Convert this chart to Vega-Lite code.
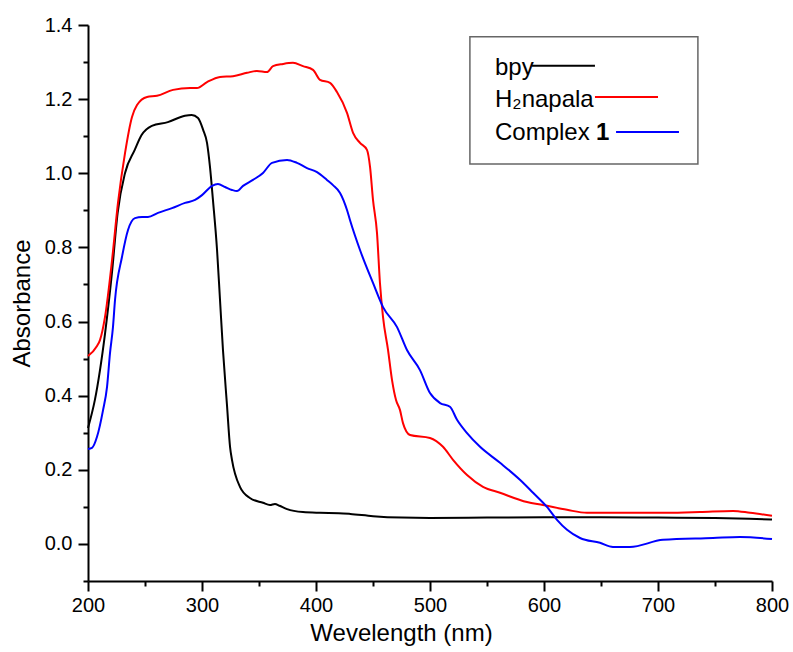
{
  "$schema": "https://vega.github.io/schema/vega-lite/v6.json",
  "width": 684,
  "height": 556,
  "autosize": {"type": "none"},
  "padding": {"left": 88, "top": 25, "right": 21, "bottom": 71},
  "background": "white",
  "config": {
    "view": {"stroke": null},
    "font": "Liberation Sans",
    "axis": {
      "domainColor": "black", "domainWidth": 2, "tickColor": "black", "tickWidth": 2,
      "grid": false, "labelColor": "black", "titleColor": "black",
      "labelFont": "Liberation Sans", "titleFont": "Liberation Sans",
      "labelFontSize": 20, "titleFontSize": 24, "titleFontWeight": "normal",
      "labelFlush": false, "labelOverlap": false
    }
  },
  "datasets": {
    "spectra": [
      {"s":"bpy","wl":200,"a":0.313},{"s":"bpy","wl":206,"a":0.388},{"s":"bpy","wl":215,"a":0.569},{"s":"bpy","wl":221,"a":0.731},{"s":"bpy","wl":226,"a":0.893},{"s":"bpy","wl":232.5,"a":1.001},{"s":"bpy","wl":241,"a":1.063},{"s":"bpy","wl":247,"a":1.103},{"s":"bpy","wl":256,"a":1.128},{"s":"bpy","wl":270,"a":1.138},{"s":"bpy","wl":285,"a":1.155},{"s":"bpy","wl":291,"a":1.157},{"s":"bpy","wl":296.5,"a":1.149},{"s":"bpy","wl":301,"a":1.117},{"s":"bpy","wl":304.4,"a":1.082},{"s":"bpy","wl":307,"a":1.017},{"s":"bpy","wl":309.6,"a":0.928},{"s":"bpy","wl":313.2,"a":0.793},{"s":"bpy","wl":315.8,"a":0.658},{"s":"bpy","wl":318.4,"a":0.523},{"s":"bpy","wl":321.9,"a":0.375},{"s":"bpy","wl":324.6,"a":0.262},{"s":"bpy","wl":326.3,"a":0.227},{"s":"bpy","wl":333.3,"a":0.154},{"s":"bpy","wl":342,"a":0.124},{"s":"bpy","wl":353.5,"a":0.111},{"s":"bpy","wl":359.6,"a":0.105},{"s":"bpy","wl":364,"a":0.108},{"s":"bpy","wl":368,"a":0.103},{"s":"bpy","wl":374.6,"a":0.094},{"s":"bpy","wl":388.6,"a":0.086},{"s":"bpy","wl":403.5,"a":0.084},{"s":"bpy","wl":420,"a":0.083},{"s":"bpy","wl":430,"a":0.081},{"s":"bpy","wl":450,"a":0.075},{"s":"bpy","wl":475,"a":0.071},{"s":"bpy","wl":500,"a":0.070},{"s":"bpy","wl":550,"a":0.071},{"s":"bpy","wl":600,"a":0.072},{"s":"bpy","wl":650,"a":0.072},{"s":"bpy","wl":700,"a":0.071},{"s":"bpy","wl":750,"a":0.070},{"s":"bpy","wl":780,"a":0.068},{"s":"bpy","wl":800,"a":0.066},
      {"s":"H2napala","wl":200,"a":0.507},{"s":"H2napala","wl":207.9,"a":0.534},{"s":"H2napala","wl":210.5,"a":0.55},{"s":"H2napala","wl":214.9,"a":0.612},{"s":"H2napala","wl":221.1,"a":0.766},{"s":"H2napala","wl":226.3,"a":0.92},{"s":"H2napala","wl":232.5,"a":1.055},{"s":"H2napala","wl":238.6,"a":1.152},{"s":"H2napala","wl":243,"a":1.184},{"s":"H2napala","wl":251.8,"a":1.206},{"s":"H2napala","wl":260.5,"a":1.209},{"s":"H2napala","wl":274.6,"a":1.225},{"s":"H2napala","wl":289.5,"a":1.23},{"s":"H2napala","wl":295.6,"a":1.23},{"s":"H2napala","wl":304.4,"a":1.246},{"s":"H2napala","wl":315.8,"a":1.26},{"s":"H2napala","wl":327.2,"a":1.262},{"s":"H2napala","wl":339.5,"a":1.271},{"s":"H2napala","wl":348.2,"a":1.276},{"s":"H2napala","wl":357,"a":1.273},{"s":"H2napala","wl":362.3,"a":1.289},{"s":"H2napala","wl":371.1,"a":1.295},{"s":"H2napala","wl":379.8,"a":1.298},{"s":"H2napala","wl":388.6,"a":1.289},{"s":"H2napala","wl":397.4,"a":1.279},{"s":"H2napala","wl":403.5,"a":1.252},{"s":"H2napala","wl":412.3,"a":1.244},{"s":"H2napala","wl":418.4,"a":1.219},{"s":"H2napala","wl":427.2,"a":1.163},{"s":"H2napala","wl":432.5,"a":1.109},{"s":"H2napala","wl":438.6,"a":1.082},{"s":"H2napala","wl":444.7,"a":1.063},{"s":"H2napala","wl":447.4,"a":1.017},{"s":"H2napala","wl":450,"a":0.928},{"s":"H2napala","wl":453.5,"a":0.839},{"s":"H2napala","wl":456.1,"a":0.704},{"s":"H2napala","wl":458.8,"a":0.612},{"s":"H2napala","wl":463.2,"a":0.523},{"s":"H2napala","wl":466.7,"a":0.442},{"s":"H2napala","wl":470.2,"a":0.388},{"s":"H2napala","wl":473.7,"a":0.361},{"s":"H2napala","wl":476.3,"a":0.326},{"s":"H2napala","wl":482.5,"a":0.294},{"s":"H2napala","wl":500,"a":0.286},{"s":"H2napala","wl":511.4,"a":0.262},{"s":"H2napala","wl":520.2,"a":0.227},{"s":"H2napala","wl":532.5,"a":0.186},{"s":"H2napala","wl":546.5,"a":0.154},{"s":"H2napala","wl":561.4,"a":0.138},{"s":"H2napala","wl":585.1,"a":0.113},{"s":"H2napala","wl":599.1,"a":0.105},{"s":"H2napala","wl":620.2,"a":0.092},{"s":"H2napala","wl":637.7,"a":0.084},{"s":"H2napala","wl":649.1,"a":0.084},{"s":"H2napala","wl":678.1,"a":0.084},{"s":"H2napala","wl":707.9,"a":0.084},{"s":"H2napala","wl":736.8,"a":0.086},{"s":"H2napala","wl":765.8,"a":0.089},{"s":"H2napala","wl":780.7,"a":0.084},{"s":"H2napala","wl":800,"a":0.076},
      {"s":"Complex 1","wl":200,"a":0.256},{"s":"Complex 1","wl":203.5,"a":0.259},{"s":"Complex 1","wl":207.9,"a":0.289},{"s":"Complex 1","wl":213.2,"a":0.361},{"s":"Complex 1","wl":216.7,"a":0.424},{"s":"Complex 1","wl":219.3,"a":0.515},{"s":"Complex 1","wl":221.9,"a":0.585},{"s":"Complex 1","wl":223.7,"a":0.658},{"s":"Complex 1","wl":229.8,"a":0.774},{"s":"Complex 1","wl":235.1,"a":0.847},{"s":"Complex 1","wl":241.2,"a":0.879},{"s":"Complex 1","wl":247.4,"a":0.882},{"s":"Complex 1","wl":252.6,"a":0.882},{"s":"Complex 1","wl":261.4,"a":0.893},{"s":"Complex 1","wl":273.7,"a":0.906},{"s":"Complex 1","wl":285.1,"a":0.92},{"s":"Complex 1","wl":293.9,"a":0.928},{"s":"Complex 1","wl":300,"a":0.941},{"s":"Complex 1","wl":308.8,"a":0.966},{"s":"Complex 1","wl":314,"a":0.971},{"s":"Complex 1","wl":320.2,"a":0.963},{"s":"Complex 1","wl":326.3,"a":0.955},{"s":"Complex 1","wl":330.7,"a":0.952},{"s":"Complex 1","wl":336,"a":0.966},{"s":"Complex 1","wl":344.7,"a":0.982},{"s":"Complex 1","wl":353.5,"a":1.001},{"s":"Complex 1","wl":361.4,"a":1.028},{"s":"Complex 1","wl":374.6,"a":1.036},{"s":"Complex 1","wl":383.3,"a":1.028},{"s":"Complex 1","wl":392.1,"a":1.014},{"s":"Complex 1","wl":400.9,"a":1.003},{"s":"Complex 1","wl":409.6,"a":0.982},{"s":"Complex 1","wl":414.9,"a":0.968},{"s":"Complex 1","wl":421.1,"a":0.947},{"s":"Complex 1","wl":427.2,"a":0.901},{"s":"Complex 1","wl":429.8,"a":0.874},{"s":"Complex 1","wl":438.6,"a":0.793},{"s":"Complex 1","wl":450,"a":0.704},{"s":"Complex 1","wl":458.8,"a":0.639},{"s":"Complex 1","wl":471.1,"a":0.585},{"s":"Complex 1","wl":479.8,"a":0.523},{"s":"Complex 1","wl":491.2,"a":0.469},{"s":"Complex 1","wl":500,"a":0.407},{"s":"Complex 1","wl":508.8,"a":0.38},{"s":"Complex 1","wl":517.5,"a":0.37},{"s":"Complex 1","wl":523.7,"a":0.335},{"s":"Complex 1","wl":532.5,"a":0.299},{"s":"Complex 1","wl":543.9,"a":0.262},{"s":"Complex 1","wl":561.4,"a":0.219},{"s":"Complex 1","wl":578.9,"a":0.173},{"s":"Complex 1","wl":590.4,"a":0.138},{"s":"Complex 1","wl":602.6,"a":0.1},{"s":"Complex 1","wl":611.4,"a":0.065},{"s":"Complex 1","wl":620.2,"a":0.038},{"s":"Complex 1","wl":631.6,"a":0.016},{"s":"Complex 1","wl":649.1,"a":0.003},{"s":"Complex 1","wl":660.5,"a":-0.008},{"s":"Complex 1","wl":675.4,"a":-0.008},{"s":"Complex 1","wl":704.4,"a":0.011},{"s":"Complex 1","wl":748.2,"a":0.016},{"s":"Complex 1","wl":771.9,"a":0.019},{"s":"Complex 1","wl":800,"a":0.013}
    ]
  },
  "resolve": {"axis": {"x": "independent", "y": "independent"}},
  "layer": [
    {
      "data": {"name": "spectra"},
      "mark": {"type": "point", "opacity": 0},
      "encoding": {
        "x": {
          "field": "wl", "type": "quantitative",
          "scale": {"domain": [200, 800], "nice": false, "zero": false},
          "axis": {"orient": "bottom", "title": null, "values": [250,350,450,550,650,750], "labels": false, "domain": false, "tickSize": 5}
        },
        "y": {
          "field": "a", "type": "quantitative",
          "scale": {"domain": [-0.1, 1.4], "nice": false, "zero": false},
          "axis": {"orient": "left", "title": null, "values": [-0.1,0.1,0.3,0.5,0.7,0.9,1.1,1.3], "labels": false, "domain": false, "tickSize": 5}
        }
      }
    },
    {
      "data": {"name": "spectra"},
      "mark": {"type": "line", "strokeWidth": 2, "interpolate": "monotone"},
      "encoding": {
        "x": {
          "field": "wl", "type": "quantitative",
          "axis": {
            "orient": "bottom",
            "title": "Wevelength (nm)",
            "values": [200,300,400,500,600,700,800],
            "format": "d",
            "tickSize": 10,
            "labelPadding": 4,
            "titlePadding": 6,
            "titleX": 313,
            "titleAlign": "center"
          }
        },
        "y": {
          "field": "a", "type": "quantitative",
          "axis": {
            "orient": "left",
            "title": "Absorbance",
            "values": [0,0.2,0.4,0.6,0.8,1.0,1.2,1.4],
            "format": ".1f",
            "tickSize": 10,
            "labelPadding": 6,
            "titlePadding": 10
          }
        },
        "color": {
          "field": "s", "type": "nominal",
          "scale": {"domain": ["bpy", "H2napala", "Complex 1"], "range": ["#000000", "#ff0000", "#0000ff"]},
          "legend": null
        }
      }
    },
    {
      "data": {"values": [{}]},
      "mark": {"type": "rect", "fill": "white", "stroke": "#666666", "strokeWidth": 1.5},
      "encoding": {"x": {"datum": 535, "axis": null}, "x2": {"datum": 735}, "y": {"datum": 1.368, "axis": null}, "y2": {"datum": 1.025}}
    },
    {
      "data": {"values": [{}]},
      "mark": {"type": "text", "align": "left", "baseline": "alphabetic", "fontSize": 24, "font": "Liberation Sans", "color": "black"},
      "encoding": {"x": {"datum": 557, "axis": null}, "y": {"datum": 1.265, "axis": null}, "text": {"value": "bpy"}}
    },
    {
      "data": {"values": [{}]},
      "mark": {"type": "text", "align": "left", "baseline": "alphabetic", "fontSize": 24, "font": "Liberation Sans", "color": "black"},
      "encoding": {"x": {"datum": 557, "axis": null}, "y": {"datum": 1.179, "axis": null}, "text": {"value": "H₂napala"}}
    },
    {
      "data": {"values": [{}]},
      "mark": {"type": "text", "align": "left", "baseline": "alphabetic", "fontSize": 24, "font": "Liberation Sans", "color": "black"},
      "encoding": {"x": {"datum": 557, "axis": null}, "y": {"datum": 1.09, "axis": null}, "text": {"value": "Complex"}}
    },
    {
      "data": {"values": [{}]},
      "mark": {"type": "text", "align": "left", "baseline": "alphabetic", "fontSize": 24, "fontWeight": "bold", "font": "Liberation Sans", "color": "black"},
      "encoding": {"x": {"datum": 645.6, "axis": null}, "y": {"datum": 1.09, "axis": null}, "text": {"value": "1"}}
    },
    {
      "data": {"values": [{}]},
      "mark": {"type": "rule", "strokeWidth": 2},
      "encoding": {"x": {"datum": 589.5, "axis": null}, "x2": {"datum": 644.7}, "y": {"datum": 1.29, "axis": null}, "color": {"datum": "bpy"}}
    },
    {
      "data": {"values": [{}]},
      "mark": {"type": "rule", "strokeWidth": 2},
      "encoding": {"x": {"datum": 644.7, "axis": null}, "x2": {"datum": 700}, "y": {"datum": 1.206, "axis": null}, "color": {"datum": "H2napala"}}
    },
    {
      "data": {"values": [{}]},
      "mark": {"type": "rule", "strokeWidth": 2},
      "encoding": {"x": {"datum": 663.2, "axis": null}, "x2": {"datum": 718.4}, "y": {"datum": 1.111, "axis": null}, "color": {"datum": "Complex 1"}}
    }
  ]
}
